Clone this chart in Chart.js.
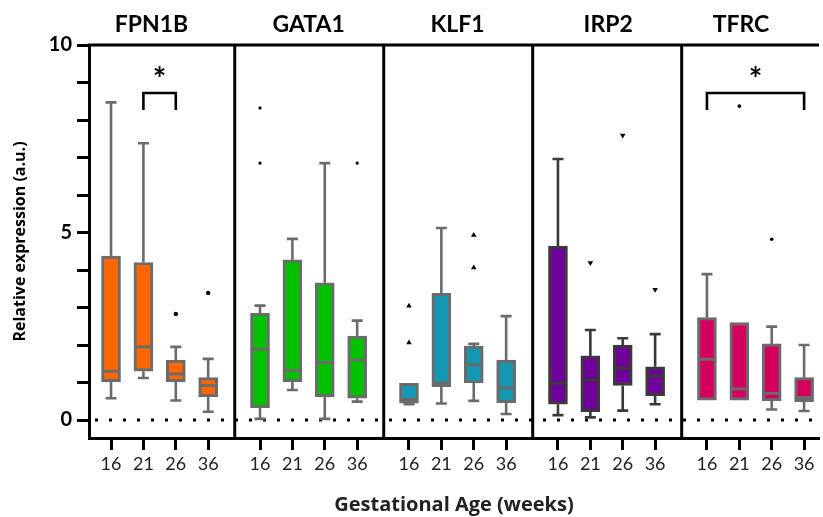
<!DOCTYPE html>
<html><head><meta charset="utf-8">
<script src="https://cdn.jsdelivr.net/npm/chart.js@4"></script>
<style>html,body{margin:0;padding:0;background:#fff;overflow:hidden}</style>
</head><body>
<canvas id="c" width="823" height="517"></canvas>
<script>
// ---------- data ----------
const genes = ['FPN1B','GATA1','KLF1','IRP2','TFRC'];
const ages = ['16','21','26','36'];
const whiskerLow = [
  [0.58,1.12,0.52,0.22],
  [0.03,0.80,0.03,0.49],
  [0.42,0.44,0.51,0.16],
  [0.13,0.07,0.25,0.42],
  [0.53,0.53,0.28,0.24]];
const boxLow = [
  [1.02,1.30,1.02,0.62],
  [0.33,1.02,0.62,0.58],
  [0.45,0.89,0.99,0.46],
  [0.42,0.22,0.92,0.65],
  [0.53,0.53,0.51,0.49]];
const medians = [
  [1.30,1.95,1.23,0.92],
  [1.89,1.32,1.53,1.60],
  [0.55,0.99,1.47,0.86],
  [0.98,1.07,1.38,1.18],
  [1.62,0.83,0.71,0.60]];
const boxHigh = [
  [4.37,4.20,1.60,1.13],
  [2.85,4.27,3.66,2.24],
  [0.98,3.38,1.97,1.60],
  [4.64,1.71,2.00,1.42],
  [2.73,2.60,2.03,1.13]];
const whiskerHigh = [
  [8.47,7.38,1.95,1.63],
  [3.05,4.83,6.85,2.65],
  [0.98,5.12,2.03,2.77],
  [6.96,2.40,2.18,2.29],
  [3.89,2.60,2.49,2.00]];
const outlierAge = [[2,3],[0,0,3],[0,0,2,2],[1,2,3],[1,2]];
const outlierValue = [[2.83,3.39],[8.32,6.85,6.85],[3.04,2.06,4.93,4.06],[4.19,7.59,3.48],[8.37,4.82]];
const sigGene = [0,4];
const sigFrom = [1,0];
const sigTo = [2,3];
const sigLevel = 8.72;
const sigLegEnd = 8.27;
const yTickLabels = [0,5,10];

// ---------- styles / layout ----------
const FONT = 'Lato';
const TITLE_FONT = '"Open Sans"';
const fillColors = ['#FF6600','#00C000','#1597B2','#70009A','#D5005E'];
const edgeColors = ['#6B6B6B','#6B6B6B','#6B6B6B','#3A3A3A','#6B6B6B'];
const markerStyles = ['circle','rect','triangle','triangle','circle'];
const markerRotation = [0,0,0,180,0];
const markerRadius = [2.2,2.0,3.2,3.2,1.8];
const STEP = 4.6, DIVIDER = 3.82, X_MIN = -0.68, X_MAX = 21.86;
const titleShift = [-0.25,0,0,0.05,-0.45];
const BOX_W = 19;
const pos = (g,i) => g*STEP + i;

const datasets = [];
genes.forEach((g,gi)=>{
  datasets.push({
    type:'bar', label:g,
    data: ages.map((a,i)=>({x:pos(gi,i), y:[boxLow[gi][i], boxHigh[gi][i]]})),
    backgroundColor: fillColors[gi], borderColor: edgeColors[gi],
    borderWidth:3, borderSkipped:false, barThickness:BOX_W, grouped:false, order:2
  });
});
genes.forEach((g,gi)=>{
  datasets.push({
    type:'scatter', label:g+' outliers',
    data: outlierAge[gi].map((a,k)=>({x:pos(gi,a), y:outlierValue[gi][k]})),
    pointStyle: markerStyles[gi], rotation: markerRotation[gi], radius: markerRadius[gi],
    backgroundColor:'#000', borderColor:'#000', borderWidth:0, order:1
  });
});

const decor = {
  id:'decor',
  beforeDatasetsDraw(chart){
    const {ctx, scales:{x,y}, chartArea:a} = chart;
    ctx.save();
    ctx.strokeStyle='#000'; ctx.lineWidth=3; ctx.setLineDash([3,11]);
    const y0 = y.getPixelForValue(0);
    ctx.beginPath(); ctx.moveTo(a.left+6, y0); ctx.lineTo(a.right, y0); ctx.stroke();
    ctx.restore();
  },
  afterDatasetsDraw(chart){
    const {ctx, scales:{x,y}, chartArea:a} = chart;
    ctx.save();
    // whiskers and medians
    genes.forEach((g,gi)=>{
      ctx.strokeStyle = edgeColors[gi];
      ages.forEach((ag,i)=>{
        const xc = x.getPixelForValue(pos(gi,i));
        ctx.lineWidth = 2.6;
        const cap = 5.5;
        if (whiskerHigh[gi][i] > boxHigh[gi][i]) {
          const yt = y.getPixelForValue(whiskerHigh[gi][i]);
          ctx.beginPath(); ctx.moveTo(xc, y.getPixelForValue(boxHigh[gi][i])); ctx.lineTo(xc, yt);
          ctx.moveTo(xc-cap, yt); ctx.lineTo(xc+cap, yt); ctx.stroke();
        }
        if (whiskerLow[gi][i] < boxLow[gi][i]) {
          const yb = y.getPixelForValue(whiskerLow[gi][i]);
          ctx.beginPath(); ctx.moveTo(xc, y.getPixelForValue(boxLow[gi][i])); ctx.lineTo(xc, yb);
          ctx.moveTo(xc-cap, yb); ctx.lineTo(xc+cap, yb); ctx.stroke();
        }
        ctx.lineWidth = 3;
        const ym = y.getPixelForValue(medians[gi][i]);
        ctx.beginPath(); ctx.moveTo(xc-BOX_W/2+1.5, ym); ctx.lineTo(xc+BOX_W/2-1.5, ym); ctx.stroke();
      });
    });
    // panel dividers
    ctx.strokeStyle='#000'; ctx.lineWidth=3;
    for (let p=0; p<genes.length-1; p++){
      const xd = x.getPixelForValue(p*STEP + DIVIDER);
      ctx.beginPath(); ctx.moveTo(xd, a.top); ctx.lineTo(xd, a.bottom); ctx.stroke();
    }
    // top frame line
    ctx.beginPath(); ctx.moveTo(a.left-1.5, a.top); ctx.lineTo(a.right, a.top); ctx.stroke();
    // panel titles
    ctx.fillStyle='#000'; ctx.textAlign='center'; ctx.textBaseline='alphabetic';
    ctx.font = 'bold 23px '+FONT;
    genes.forEach((g,gi)=>{
      ctx.fillText(g, x.getPixelForValue(gi*STEP+1.5+titleShift[gi]), 32);
    });
    // significance brackets
    ctx.lineWidth=2.6;
    sigGene.forEach((g,k)=>{
      const x1 = x.getPixelForValue(pos(g,sigFrom[k]));
      const x2 = x.getPixelForValue(pos(g,sigTo[k]));
      const yt = y.getPixelForValue(sigLevel), yl = y.getPixelForValue(sigLegEnd);
      ctx.beginPath(); ctx.moveTo(x1, yl); ctx.lineTo(x1, yt); ctx.lineTo(x2, yt); ctx.lineTo(x2, yl); ctx.stroke();
      ctx.font = 'bold 32px '+FONT;
      ctx.fillText('*', (x1+x2)/2, yt-2);
    });
    ctx.restore();
  }
};

new Chart(document.getElementById('c'), {
  type:'bar',
  data:{datasets},
  options:{
    responsive:false, animation:false, devicePixelRatio:1,
    layout:{padding:{top:45, right:0, left:0, bottom:0}},
    plugins:{legend:{display:false}, tooltip:{enabled:false}},
    scales:{
      x:{
        type:'linear', min:X_MIN, max:X_MAX, offset:false,
        afterBuildTicks(s){ s.ticks = []; genes.forEach((g,gi)=>ages.forEach((a,i)=>s.ticks.push({value:pos(gi,i)}))); },
        afterFit(s){ s.height = 79; },
        ticks:{autoSkip:false, maxRotation:0, minRotation:0, padding:3,
          callback:(v,i)=>ages[i%ages.length], color:'#222', font:{family:FONT, size:18}},
        grid:{drawOnChartArea:false, offset:false, tickLength:12, tickWidth:3, tickColor:'#000'},
        border:{display:true, width:3, color:'#000'},
        title:{display:true, text:'Gestational Age (weeks)', color:'#222',
          font:{family:TITLE_FONT, size:20, weight:'bold'}, padding:{top:0, bottom:0}}
      },
      y:{
        min:-0.48, max:10,
        afterFit(s){ s.width = 89; },
        ticks:{stepSize:1, includeBounds:false, padding:5, color:'#000',
          callback:v=> yTickLabels.includes(v) ? String(v) : '',
          font:{family:FONT, size:20, weight:'bold'}},
        grid:{drawOnChartArea:false, tickLength:12, tickWidth:3, tickColor:'#000'},
        border:{display:true, width:3, color:'#000'},
        title:{display:true, text:'Relative expression (a.u.)', color:'#000',
          font:{family:TITLE_FONT, size:16, weight:'bold'}, padding:{top:11, bottom:0}}
      }
    }
  },
  plugins:[decor]
});
</script>
</body></html>
